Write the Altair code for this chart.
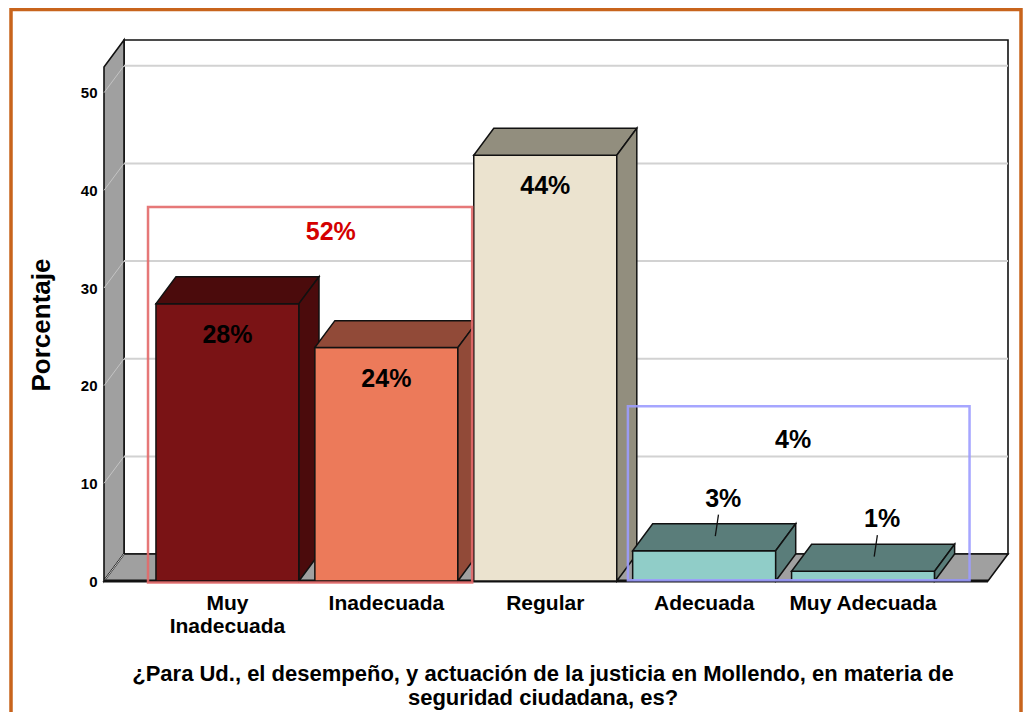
import altair as alt
import pandas as pd

# ---------------- data ----------------
categories = ["Muy\nInadecuada", "Inadecuada", "Regular", "Adecuada", "Muy Adecuada"]
percent = [28.4, 23.9, 43.6, 3.1, 1.0]
front_colors = ["#7a1315", "#ec7a5a", "#ebe3cf", "#90cdc8", "#90cdc8"]
shade_colors = ["#4b0b0c", "#914a38", "#928e7e", "#5a7d7a", "#5a7d7a"]
y_ticks = [0, 10, 20, 30, 40, 50]

group_members = [[0, 1], [3, 4]]
group_box_x0 = [-0.50, 2.52]
group_box_x1 = [1.54, 4.67]
group_box_top = [38.3, 17.9]
group_label_x = [0.65, 3.56]
group_label_y = [35.7, 14.4]
group_box_colors = ["#e46a6a", "#9d9dff"]
group_text_colors = ["#d40000", "#000000"]

axis_title = "Porcentaje"
x_title_lines = [
    "¿Para Ud., el desempeño, y actuación de la justicia en Mollendo, en materia de",
    "seguridad ciudadana, es?",
]

FONT = "Liberation Sans, Arial, sans-serif"

# ---------------- geometry of the pseudo-3D frame ----------------
HALF, DX, DY = 0.45, 0.126, 2.76
X_MIN, X_MAX = -0.777, 4.912
FLOOR_RIGHT = X_MAX - DX
Y_MAX = 55.4
WALL_TOP = Y_MAX - DY

xs = alt.Scale(domain=[X_MIN, X_MAX], nice=False, zero=False)
ys = alt.Scale(domain=[0, Y_MAX], nice=False, zero=False)
yaxis = alt.Axis(values=y_ticks, title=None, domain=False, ticks=False, grid=False,
                 labelFont=FONT, labelFontSize=15, labelFontWeight="bold",
                 labelColor="#000000", labelPadding=7)


def X(f):
    return alt.X(f, type="quantitative", scale=xs, axis=None)


def Y(f):
    return alt.Y(f, type="quantitative", scale=ys, axis=yaxis)


def poly_rows(fid, pts, fill):
    return [{"fid": fid, "x": p[0], "y": p[1], "y2": p[2], "fill": fill} for p in pts]


# walls
wall_rows = []
wall_rows += poly_rows("w0", [(X_MIN + DX, DY, Y_MAX), (X_MAX, DY, Y_MAX)], "#ffffff")
wall_rows += poly_rows("w1", [(X_MIN, 0, WALL_TOP), (X_MIN + DX, DY, Y_MAX)], "#a0a0a0")
wall_rows += poly_rows("w2", [(X_MIN, 0, 0), (X_MIN + DX, 0, DY), (FLOOR_RIGHT, 0, DY),
                              (X_MAX, DY, DY)], "#a0a0a0")
walls = pd.DataFrame(wall_rows)

# bars (front, top, side faces)
bar_rows = []
for i, v in enumerate(percent):
    c = i
    x0, x1 = c - HALF, c + HALF
    bar_rows += poly_rows(f"b{i}a", [(x0, 0, v), (x1, 0, v)], front_colors[i])
    bar_rows += poly_rows(f"b{i}b", [(x0, v, v), (x0 + DX, v, v + DY), (x1, v, v + DY),
                                     (x1 + DX, v + DY, v + DY)], shade_colors[i])
    bar_rows += poly_rows(f"b{i}c", [(x1, 0, v), (x1 + DX, DY, v + DY)], shade_colors[i])
bars = pd.DataFrame(bar_rows)

grid = pd.DataFrame({"x": [X_MIN + DX] * 5, "x2": [X_MAX] * 5,
                     "y": [t + DY for t in y_ticks[1:]], "y2": [t + DY for t in y_ticks[1:]]})
diag = pd.DataFrame({"x": [X_MIN] * 6, "x2": [X_MIN + DX] * 6,
                     "y": y_ticks, "y2": [t + DY for t in y_ticks]})
front_edge = pd.DataFrame({"x": [X_MIN], "x2": [FLOOR_RIGHT], "y": [0.0]})

labels = [f"{round(v)}%" for v in percent]
big = pd.DataFrame({"x": [i for i, v in enumerate(percent) if v >= 10],
                    "y": [v - 3.2 for v in percent if v >= 10],
                    "t": [l for l, v in zip(labels, percent) if v >= 10]})
small_idx = [i for i, v in enumerate(percent) if v < 10]
small = pd.DataFrame({"x": [i + 0.12 for i in small_idx],
                      "y": [percent[i] + 5.3 for i in small_idx],
                      "t": [labels[i] for i in small_idx]})
leaders = pd.DataFrame({"x": [i + 0.09 for i in small_idx], "x2": [i + 0.07 for i in small_idx],
                        "y": [percent[i] + 3.7 for i in small_idx],
                        "y2": [percent[i] + 1.5 for i in small_idx]})

groups = pd.DataFrame({
    "x": group_box_x0, "x2": group_box_x1,
    "y": [-0.15, 0.08], "y2": group_box_top,
    "col": group_box_colors,
    "lx": group_label_x, "ly": group_label_y,
    "t": [f"{round(sum(percent[k] for k in g))}%" for g in group_members],
    "tcol": group_text_colors,
})

xlab_rows = []
for i, cat in enumerate(categories):
    for j, line in enumerate(cat.split("\n")):
        xlab_rows.append({"x": i, "line": j, "t": line})
xlabs = pd.DataFrame(xlab_rows)

# ---------------- layers ----------------
frame = alt.Chart(pd.DataFrame({"a": [0]})).mark_rect(
    fillOpacity=0, stroke="#c8641c", strokeWidth=3.5
).encode(x=alt.value(-93), x2=alt.value(917), y=alt.value(-30.5), y2=alt.value(720))

wall_layer = alt.Chart(walls).mark_area(orient="vertical", stroke="#111111", strokeWidth=1.6,
                                        strokeJoin="miter", interpolate="linear").encode(
    x=X("x"), y=Y("y"), y2="y2", detail="fid:N",
    color=alt.Color("fill:N", scale=None))

grid_layer = alt.Chart(grid).mark_rule(color="#d2d2d2", strokeWidth=2).encode(
    x=X("x"), x2="x2", y=Y("y"), y2="y2")
diag_layer = alt.Chart(diag).mark_rule(color="#c4c4c4", strokeWidth=1).encode(
    x=X("x"), x2="x2", y=Y("y"), y2="y2")
edge_layer = alt.Chart(front_edge).mark_rule(color="#111111", strokeWidth=3).encode(
    x=X("x"), x2="x2", y=Y("y"))

bar_layer = alt.Chart(bars).mark_area(orient="vertical", stroke="#111111", strokeWidth=1.5,
                                      strokeJoin="miter", interpolate="linear").encode(
    x=X("x"), y=Y("y"), y2="y2", detail="fid:N",
    color=alt.Color("fill:N", scale=None))

big_text = alt.Chart(big).mark_text(font=FONT, fontSize=25, fontWeight="bold", color="#000000",
                                    baseline="middle", align="center").encode(
    x=X("x"), y=Y("y"), text="t:N")
small_text = alt.Chart(small).mark_text(font=FONT, fontSize=25, fontWeight="bold",
                                        color="#000000", baseline="middle",
                                        align="center").encode(
    x=X("x"), y=Y("y"), text="t:N")
leader_layer = alt.Chart(leaders).mark_rule(color="#111111", strokeWidth=1.3).encode(
    x=X("x"), x2="x2", y=Y("y"), y2="y2")

box_layer = alt.Chart(groups).mark_rect(fillOpacity=0, strokeWidth=2.5, opacity=0.9).encode(
    x=X("x"), x2="x2", y=Y("y"), y2="y2", stroke=alt.Stroke("col:N", scale=None))
group_text = alt.Chart(groups).mark_text(font=FONT, fontSize=25, fontWeight="bold",
                                         baseline="middle", align="center").encode(
    x=X("lx"), y=Y("ly"), text="t:N", color=alt.Color("tcol:N", scale=None))

xlab_layers = []
for j, ypix in enumerate([564, 587]):
    xlab_layers.append(
        alt.Chart(xlabs).transform_filter(alt.datum.line == j).mark_text(
            font=FONT, fontSize=21, fontWeight="bold", color="#000000",
            baseline="middle", align="center").encode(
            x=X("x"), y=alt.value(ypix), text="t:N"))

ytitle = alt.Chart(pd.DataFrame({"t": [axis_title]})).mark_text(
    font=FONT, fontSize=26, fontWeight="bold", angle=270, baseline="middle",
    align="center", color="#000000").encode(x=alt.value(-62), y=alt.value(285), text="t:N")

xtitle_layers = []
for j, ypix in enumerate([634, 657.5]):
    xtitle_layers.append(
        alt.Chart(pd.DataFrame({"t": [x_title_lines[j]]})).mark_text(
            font=FONT, fontSize=22, fontWeight="bold", baseline="middle", align="center",
            color="#000000").encode(x=alt.value(439), y=alt.value(ypix), text="t:N"))

chart = alt.layer(
    frame, wall_layer, grid_layer, diag_layer, edge_layer, bar_layer,
    big_text, leader_layer, small_text, box_layer, group_text,
    *xlab_layers, ytitle, *xtitle_layers
).properties(
    width=904, height=541,
    autosize=alt.AutoSizeParams(type="none"),
    padding={"left": 96, "top": 32, "right": 15, "bottom": 131},
    background="white",
).configure_view(stroke=None)

chart.save("out.html", embed_options={"renderer": "svg", "actions": False})
